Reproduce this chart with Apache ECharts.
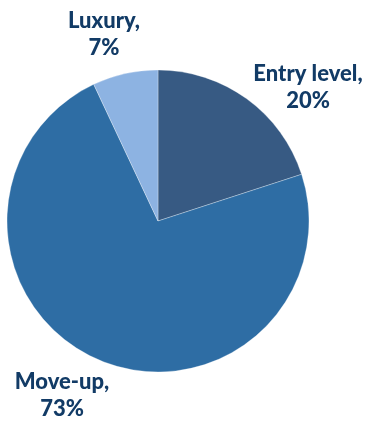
<!DOCTYPE html>
<html><head><meta charset="utf-8">
<script src="https://cdn.jsdelivr.net/npm/echarts@6/dist/echarts.min.js"></script>
<style>html,body{margin:0;padding:0;background:#fff}#c{width:367px;height:421px}</style>
</head><body><div id="c"></div>
<script>
const categories = ['Entry level', 'Move-up', 'Luxury'];
const values = [20, 73, 7];
const colors = ['#375A83', '#2E6DA4', '#8DB3E2'];
const labelPos = [[308, 87], [62, 395], [104, 34]];

const chart = echarts.init(document.getElementById('c'));
chart.setOption({
  animation: false,
  series: [{
    type: 'pie',
    center: [158, 221],
    radius: [0, 151],
    startAngle: 90,
    clockwise: true,
    avoidLabelOverlap: false,
    data: categories.map((n, i) => ({ name: n, value: values[i], itemStyle: { color: colors[i] } })),
    itemStyle: { borderColor: 'rgba(255,255,255,0.5)', borderWidth: 0.6 },
    label: {
      show: true,
      position: 'outside',
      formatter: p => p.name + ',\n' + p.value + '%',
      color: '#123B66',
      fontFamily: 'Lato',
      fontWeight: 900,
      fontSize: 22,
      lineHeight: 27,
      align: 'center',
      overflow: 'none',
      width: 200
    },
    labelLine: { show: false },
    labelLayout: p => ({ x: labelPos[p.dataIndex][0], y: labelPos[p.dataIndex][1], align: 'center', verticalAlign: 'middle' })
  }]
});
</script></body></html>
